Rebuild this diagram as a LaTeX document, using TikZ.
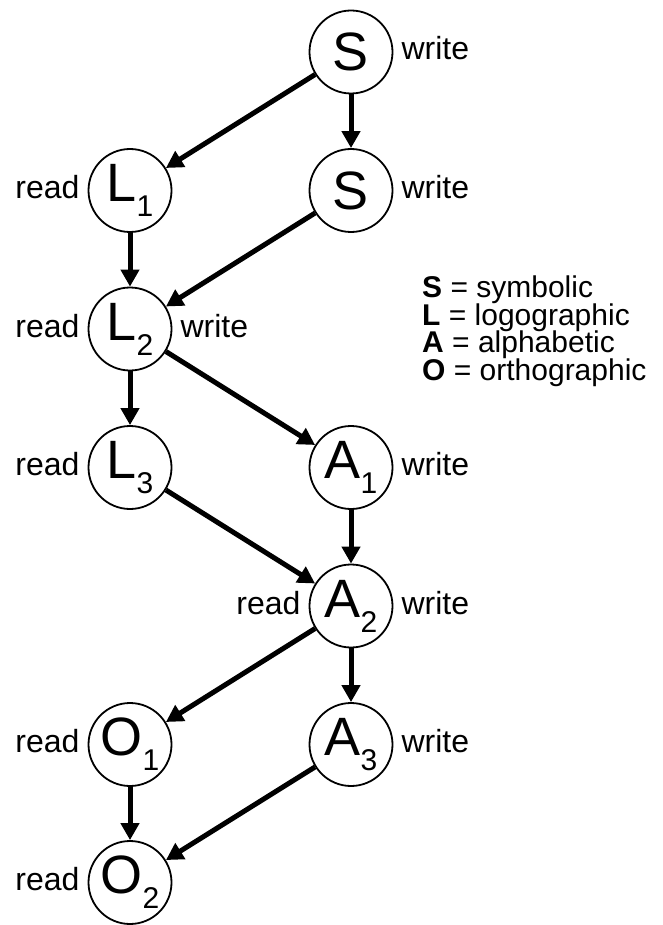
\documentclass[tikz,border=0pt]{standalone}
\usepackage{fontspec}
\setmainfont{Liberation Sans}
\usetikzlibrary{arrows.meta}
\newcommand\nsub[1]{\raisebox{-15pt}{\fontsize{30}{30}\selectfont #1}}
\newcommand\legfont{\fontsize{30}{27.5}\selectfont\lineskiplimit=-50pt\relax\lineskip=0pt\relax}
\begin{document}
\begin{tikzpicture}[x=1pt,y=-1pt,
  st/.style={circle, draw, line width=1.8pt, minimum size=83pt, inner sep=0pt,
    font=\fontsize{54}{54}\selectfont},
  conn/.style={line width=5pt, -{Triangle[length=17pt,width=18pt]}},
  lbl/.style={font=\fontsize{32}{32}\selectfont, inner sep=0pt},
  rd/.style={lbl, anchor=base east, xshift=-8pt, yshift=-8pt},
  wr/.style={lbl, anchor=base west, xshift=8pt, yshift=-8pt},
]
\useasboundingbox (0,0) rectangle (662,925);

\node[st] (S1) at (351,52) {S};
\node[st] (L1) at (130,190.5) {L\nsub{1}};
\node[st] (S2) at (351,190.5) {S};
\node[st] (L2) at (130,329) {L\nsub{2}};
\node[st] (L3) at (130,467.5) {L\nsub{3}};
\node[st] (A1) at (351,467.5) {A\nsub{1}};
\node[st] (A2) at (351,606) {A\nsub{2}};
\node[st] (O1) at (130,744.5) {O\nsub{1}};
\node[st] (A3) at (351,744.5) {A\nsub{3}};
\node[st] (O2) at (130,882.5) {O\nsub{2}};

\node[wr] (w1) at (S1.east) {write};
\node[rd] (r1) at (L1.west) {read};
\node[wr] (w2) at (S2.east) {write};
\node[rd] (r2) at (L2.west) {read};
\node[wr] (w3) at (L2.east) {write};
\node[rd] (r3) at (L3.west) {read};
\node[wr] (w4) at (A1.east) {write};
\node[rd] (r4) at (A2.west) {read};
\node[wr] (w5) at (A2.east) {write};
\node[rd] (r5) at (O1.west) {read};
\node[wr] (w6) at (A3.east) {write};
\node[rd] (r6) at (O2.west) {read};

\node[inner sep=0pt, anchor=north west, align=left, font=\legfont]
  (leg) at (422,276)
  {\textbf{S} = symbolic\\ \textbf{L} = logographic\\ \textbf{A} = alphabetic\\ \textbf{O} = orthographic};

\draw[conn] (S1) -- (L1);
\draw[conn] (S1) -- (S2);
\draw[conn] (L1) -- (L2);
\draw[conn] (S2) -- (L2);
\draw[conn] (L2) -- (L3);
\draw[conn] (L2) -- (A1);
\draw[conn] (L3) -- (A2);
\draw[conn] (A1) -- (A2);
\draw[conn] (A2) -- (O1);
\draw[conn] (A2) -- (A3);
\draw[conn] (O1) -- (O2);
\draw[conn] (A3) -- (O2);
\end{tikzpicture}
\end{document}
